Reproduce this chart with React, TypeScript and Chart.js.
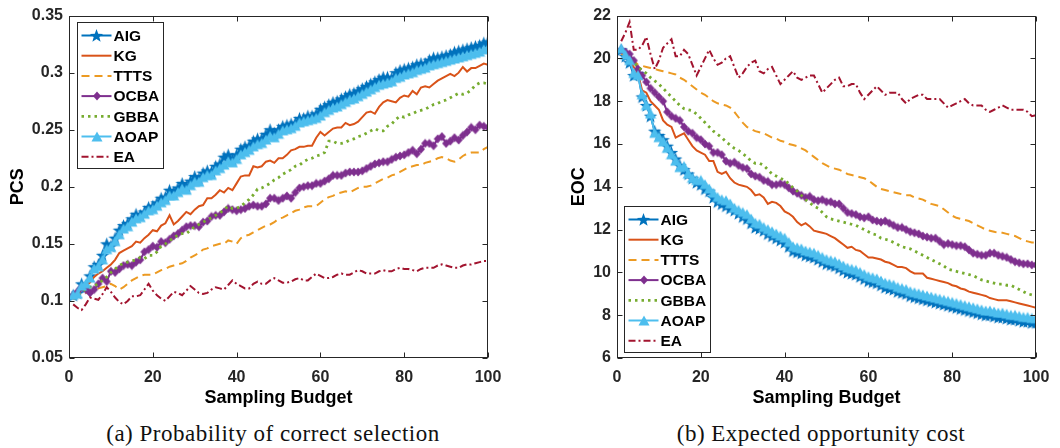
import React, { useEffect, useRef } from "react";
import { Chart, registerables } from "chart.js";
Chart.register(...registerables);

// ---------- data ----------
const budget = Array.from({ length: 100 }, (_, i) => i + 1);
const methods = ["AIG", "KG", "TTTS", "OCBA", "GBBA", "AOAP", "EA"];

const xTicks = [0, 20, 40, 60, 80, 100];
const xTickLabels = ["0", "20", "40", "60", "80", "100"];
const pcsTicks = [0.05, 0.1, 0.15, 0.2, 0.25, 0.3, 0.35];
const pcsTickLabels = ["0.05", "0.1", "0.15", "0.2", "0.25", "0.3", "0.35"];
const eocTicks = [6, 8, 10, 12, 14, 16, 18, 20, 22];
const eocTickLabels = ["6", "8", "10", "12", "14", "16", "18", "20", "22"];

const pcsAIG = [0.105,0.107,0.115,0.112,0.122,0.13,0.132,0.14,0.15,0.148,0.155,0.162,0.166,0.168,0.172,0.176,0.175,0.178,0.182,0.183,0.186,0.19,0.191,0.197,0.195,0.199,0.203,0.2,0.205,0.209,0.207,0.212,0.214,0.213,0.218,0.22,0.226,0.228,0.224,0.228,0.233,0.235,0.236,0.24,0.242,0.242,0.246,0.25,0.247,0.25,0.253,0.254,0.255,0.256,0.26,0.26,0.262,0.262,0.264,0.268,0.27,0.272,0.274,0.275,0.277,0.279,0.281,0.282,0.284,0.286,0.288,0.29,0.292,0.294,0.296,0.296,0.295,0.3,0.302,0.303,0.304,0.305,0.307,0.308,0.308,0.311,0.313,0.313,0.314,0.315,0.316,0.318,0.319,0.32,0.321,0.322,0.323,0.324,0.326,0.327];
const pcsKG = [0.105,0.107,0.11,0.113,0.116,0.121,0.124,0.126,0.129,0.132,0.136,0.142,0.144,0.146,0.148,0.152,0.151,0.155,0.158,0.162,0.161,0.166,0.168,0.175,0.167,0.17,0.174,0.178,0.176,0.18,0.183,0.184,0.19,0.19,0.193,0.197,0.195,0.199,0.197,0.203,0.209,0.21,0.21,0.218,0.217,0.218,0.222,0.223,0.221,0.225,0.225,0.228,0.232,0.233,0.235,0.235,0.236,0.236,0.243,0.248,0.245,0.248,0.251,0.252,0.252,0.256,0.254,0.255,0.257,0.261,0.265,0.266,0.264,0.27,0.274,0.276,0.275,0.274,0.278,0.28,0.279,0.284,0.281,0.287,0.288,0.287,0.29,0.293,0.295,0.297,0.299,0.297,0.3,0.305,0.301,0.304,0.304,0.306,0.308,0.307];
const pcsTTTS = [0.105,0.106,0.108,0.107,0.108,0.109,0.111,0.112,0.113,0.115,0.113,0.11,0.112,0.115,0.118,0.12,0.122,0.123,0.123,0.123,0.125,0.127,0.128,0.13,0.131,0.132,0.133,0.135,0.138,0.14,0.142,0.145,0.146,0.148,0.149,0.15,0.15,0.153,0.152,0.15,0.155,0.157,0.158,0.16,0.162,0.164,0.166,0.167,0.169,0.172,0.173,0.175,0.177,0.179,0.18,0.182,0.183,0.183,0.183,0.186,0.189,0.191,0.192,0.194,0.195,0.196,0.195,0.197,0.199,0.2,0.2,0.201,0.203,0.205,0.207,0.208,0.21,0.211,0.213,0.215,0.217,0.218,0.219,0.219,0.221,0.222,0.223,0.225,0.226,0.225,0.223,0.222,0.224,0.227,0.229,0.23,0.23,0.23,0.233,0.235];
const pcsOCBA = [0.105,0.108,0.112,0.11,0.107,0.11,0.115,0.12,0.117,0.126,0.125,0.128,0.131,0.132,0.131,0.134,0.136,0.143,0.145,0.148,0.147,0.152,0.151,0.154,0.157,0.159,0.162,0.165,0.166,0.166,0.165,0.169,0.17,0.174,0.175,0.175,0.178,0.181,0.18,0.179,0.18,0.181,0.183,0.184,0.183,0.183,0.185,0.19,0.19,0.188,0.19,0.192,0.19,0.195,0.199,0.2,0.201,0.201,0.203,0.203,0.205,0.207,0.21,0.21,0.21,0.212,0.213,0.213,0.213,0.214,0.216,0.218,0.22,0.221,0.222,0.222,0.224,0.226,0.227,0.228,0.23,0.232,0.229,0.233,0.238,0.238,0.236,0.242,0.244,0.238,0.24,0.243,0.241,0.245,0.248,0.252,0.25,0.254,0.253,0.252];
const pcsGBBA = [0.102,0.104,0.108,0.11,0.112,0.113,0.115,0.118,0.121,0.125,0.128,0.131,0.133,0.134,0.135,0.136,0.138,0.137,0.14,0.14,0.143,0.148,0.15,0.153,0.155,0.158,0.159,0.159,0.162,0.165,0.167,0.169,0.171,0.173,0.175,0.177,0.18,0.183,0.181,0.181,0.183,0.186,0.189,0.193,0.198,0.199,0.201,0.203,0.206,0.208,0.211,0.213,0.215,0.218,0.219,0.222,0.224,0.225,0.227,0.228,0.23,0.24,0.24,0.238,0.238,0.239,0.241,0.242,0.244,0.245,0.247,0.249,0.251,0.249,0.249,0.253,0.255,0.259,0.262,0.261,0.263,0.264,0.266,0.267,0.268,0.27,0.272,0.273,0.275,0.276,0.278,0.28,0.282,0.281,0.282,0.285,0.289,0.291,0.291,0.29];
const pcsAOAP = [0.105,0.106,0.113,0.115,0.12,0.128,0.13,0.136,0.145,0.147,0.152,0.158,0.163,0.165,0.169,0.172,0.173,0.176,0.179,0.18,0.183,0.186,0.188,0.192,0.192,0.195,0.198,0.197,0.201,0.204,0.204,0.208,0.21,0.21,0.214,0.216,0.219,0.222,0.221,0.224,0.228,0.23,0.232,0.235,0.237,0.238,0.241,0.244,0.243,0.246,0.249,0.25,0.251,0.253,0.256,0.257,0.258,0.259,0.26,0.262,0.265,0.267,0.269,0.27,0.272,0.274,0.276,0.277,0.279,0.281,0.283,0.285,0.287,0.289,0.29,0.291,0.292,0.295,0.296,0.298,0.299,0.3,0.302,0.303,0.304,0.306,0.307,0.308,0.309,0.31,0.311,0.312,0.313,0.314,0.315,0.316,0.317,0.318,0.32,0.321];
const pcsEA = [0.097,0.094,0.092,0.097,0.103,0.102,0.101,0.106,0.112,0.108,0.103,0.099,0.097,0.1,0.104,0.104,0.105,0.11,0.115,0.109,0.105,0.102,0.1,0.104,0.108,0.107,0.105,0.109,0.113,0.11,0.107,0.106,0.107,0.11,0.112,0.111,0.11,0.114,0.118,0.115,0.113,0.111,0.111,0.115,0.117,0.115,0.115,0.118,0.12,0.118,0.116,0.116,0.117,0.119,0.12,0.118,0.118,0.121,0.124,0.122,0.12,0.12,0.121,0.123,0.124,0.123,0.123,0.125,0.127,0.126,0.124,0.124,0.124,0.126,0.127,0.126,0.126,0.128,0.129,0.128,0.128,0.127,0.126,0.128,0.129,0.129,0.129,0.131,0.132,0.131,0.13,0.129,0.129,0.131,0.132,0.132,0.133,0.134,0.135,0.135];

const eocAIG = [20.4,20.1,19.8,19.2,19.3,18.2,17.8,17.3,16.6,16.4,16.2,15.9,15.6,15.3,15.0,14.8,14.6,14.4,14.2,14.1,13.9,13.8,13.5,13.3,13.2,13.1,13.0,12.9,12.75,12.6,12.5,12.3,12.1,12.05,11.95,11.8,11.7,11.6,11.5,11.4,11.2,11.0,10.95,10.9,10.8,10.75,10.7,10.6,10.5,10.4,10.35,10.3,10.2,10.1,10.0,9.95,9.9,9.8,9.7,9.6,9.55,9.5,9.4,9.3,9.25,9.2,9.1,9.05,9.0,8.9,8.85,8.8,8.75,8.7,8.65,8.6,8.55,8.5,8.45,8.4,8.35,8.3,8.25,8.2,8.15,8.1,8.05,8.0,8.0,7.95,7.9,7.9,7.85,7.8,7.8,7.75,7.7,7.7,7.65,7.65];
const eocKG = [20.4,20.1,19.9,19.6,19.3,18.5,18.4,18.0,17.8,17.6,17.1,16.9,16.8,16.3,16.4,16.5,16.2,15.9,15.7,15.6,15.5,15.2,15.2,14.7,14.6,14.7,14.4,14.2,14.1,14.05,14.0,13.85,13.6,13.65,13.5,13.2,13.3,13.25,13.1,12.85,12.75,12.6,12.35,12.2,12.3,12.15,11.95,11.9,11.85,11.8,11.7,11.6,11.45,11.3,11.15,11.2,11.05,11.0,10.85,10.7,10.7,10.65,10.6,10.5,10.45,10.35,10.25,10.25,10.2,10.05,9.95,9.95,9.95,9.75,9.7,9.65,9.6,9.55,9.5,9.4,9.35,9.25,9.2,9.1,9.05,9.0,8.95,8.9,8.8,8.75,8.7,8.7,8.7,8.65,8.6,8.55,8.5,8.45,8.4,8.35];
const eocTTTS = [20.2,20.15,20.1,19.9,19.7,19.65,19.6,19.55,19.5,19.45,19.4,19.35,19.3,19.25,19.1,19.0,18.85,18.7,18.55,18.4,18.3,18.15,18.0,17.9,17.85,17.8,17.7,17.5,17.25,17.0,16.8,16.7,16.6,16.55,16.5,16.4,16.3,16.25,16.15,16.1,16.0,15.95,15.9,15.8,15.7,15.55,15.4,15.25,15.1,15.0,14.9,14.85,14.8,14.7,14.6,14.55,14.5,14.45,14.4,14.3,14.15,14.0,13.9,13.85,13.8,13.75,13.7,13.65,13.6,13.6,13.5,13.45,13.4,13.3,13.2,13.15,13.1,12.95,12.8,12.65,12.55,12.5,12.45,12.4,12.3,12.2,12.1,12.0,11.95,11.9,11.85,11.85,11.8,11.75,11.7,11.6,11.5,11.45,11.4,11.4];
const eocOCBA = [20.4,20.3,20.2,19.9,19.5,19.2,18.9,18.6,18.4,18.2,18.0,17.5,17.3,17.2,17.1,16.8,16.6,16.5,16.3,16.2,16.0,15.9,15.6,15.6,15.5,15.2,15.1,15.15,15.0,14.9,14.85,14.6,14.5,14.45,14.3,14.25,14.1,14.1,14.15,14.1,13.95,13.8,13.7,13.6,13.5,13.55,13.4,13.35,13.4,13.3,13.3,13.2,13.2,13.0,12.8,12.75,12.7,12.6,12.55,12.6,12.45,12.4,12.35,12.4,12.3,12.2,12.1,12.1,12.0,11.9,11.85,11.8,11.7,11.65,11.6,11.6,11.45,11.3,11.35,11.3,11.25,11.25,11.2,11.05,10.9,10.85,10.8,10.8,10.9,10.9,10.8,10.75,10.7,10.6,10.5,10.45,10.4,10.4,10.35,10.35];
const eocGBBA = [20.4,20.2,19.95,19.8,19.6,19.45,19.3,19.1,18.95,18.8,18.6,18.4,18.2,18.0,17.8,17.65,17.6,17.55,17.4,17.2,17.0,16.8,16.6,16.45,16.3,16.1,15.95,15.8,15.7,15.55,15.4,15.2,15.1,15.1,15.0,14.8,14.6,14.5,14.4,14.3,14.15,13.95,13.8,13.6,13.4,13.25,13.1,13.0,12.8,12.6,12.5,12.45,12.4,12.35,12.3,12.25,12.2,12.1,12.0,11.9,11.8,11.75,11.6,11.55,11.5,11.4,11.3,11.2,11.15,11.1,11.0,10.9,10.8,10.7,10.6,10.5,10.4,10.3,10.15,10.1,10.05,10.0,9.95,9.9,9.85,9.75,9.65,9.6,9.55,9.5,9.45,9.45,9.4,9.4,9.3,9.2,9.1,9.0,8.95,8.9];
const eocAOAP = [20.45,20.15,19.9,19.3,19.2,18.3,17.8,17.4,16.5,16.3,16.1,15.8,15.5,15.2,14.9,14.95,14.6,14.4,14.3,14.3,14.1,13.9,13.7,13.5,13.4,13.35,13.2,13.0,12.9,12.8,12.7,12.5,12.3,12.25,12.1,12.0,11.9,11.8,11.7,11.6,11.4,11.2,11.15,11.1,11.0,10.95,10.9,10.8,10.7,10.6,10.55,10.5,10.4,10.3,10.2,10.15,10.1,10.0,9.9,9.8,9.75,9.7,9.6,9.5,9.45,9.4,9.3,9.25,9.2,9.1,9.05,9.0,8.95,8.9,8.85,8.8,8.75,8.7,8.65,8.6,8.55,8.5,8.45,8.4,8.35,8.3,8.25,8.2,8.2,8.15,8.1,8.1,8.05,8.0,8.0,7.95,7.9,7.9,7.85,7.85];
const eocEA = [20.8,21.2,21.7,20.4,20.4,20.6,21.0,20.2,19.5,19.9,20.5,20.7,20.9,20.1,20.1,20.4,20.2,19.7,19.2,19.6,20.0,20.4,20.0,19.7,19.8,20.0,20.1,19.6,19.1,19.3,19.6,19.8,19.9,19.4,19.3,19.5,19.6,19.2,18.8,19.0,19.2,19.4,19.1,19.0,19.1,19.2,19.2,18.8,18.4,18.6,18.8,19.0,19.1,18.7,18.7,18.8,18.8,18.4,18.1,18.3,18.5,18.7,18.5,18.3,18.4,18.4,18.4,18.1,17.9,18.1,18.2,18.3,18.3,18.1,18.1,18.1,18.1,17.9,17.7,17.8,17.9,18.0,18.1,17.9,17.8,17.8,17.8,17.6,17.5,17.6,17.7,17.8,17.7,17.6,17.6,17.6,17.6,17.5,17.3,17.35];

const pcsSeries = [pcsAIG, pcsKG, pcsTTTS, pcsOCBA, pcsGBBA, pcsAOAP, pcsEA];
const eocSeries = [eocAIG, eocKG, eocTTTS, eocOCBA, eocGBBA, eocAOAP, eocEA];

// ---------- styles ----------
const colors = ["#0072BD", "#D95319", "#EC9A22", "#7E2F8E", "#77AC30", "#4DBEEE", "#A2142F"];
const dashes: number[][] = [[], [], [8, 5], [], [2.5, 4], [], [7, 3, 2, 3]];
const widths = [2, 2, 2, 2, 2.8, 2, 2];
const markers = ["star", "none", "none", "diamond", "none", "triangle", "none"];
const AXIS_COLOR = "#262626";
const SANS = "'Liberation Sans', Arial, Helvetica, sans-serif";

function makeMarker(kind: string, color: string): HTMLCanvasElement | null {
  if (kind === "none") return null;
  const c = document.createElement("canvas");
  const s = kind === "star" ? 15 : kind === "triangle" ? 12 : 10;
  c.width = s;
  c.height = s;
  const ctx = c.getContext("2d")!;
  const m = s / 2;
  ctx.beginPath();
  if (kind === "star") {
    const r = 7;
    for (let k = 0; k < 10; k++) {
      const rad = k % 2 === 0 ? r : r * 0.42;
      const a = -Math.PI / 2 + (k * Math.PI) / 5;
      ctx.lineTo(m + rad * Math.cos(a), m + 0.6 + rad * Math.sin(a));
    }
  } else if (kind === "triangle") {
    ctx.moveTo(m, 0.5);
    ctx.lineTo(s - 0.5, s - 1.5);
    ctx.lineTo(0.5, s - 1.5);
  } else {
    ctx.moveTo(m, 0.5);
    ctx.lineTo(s - 1, m);
    ctx.lineTo(m, s - 0.5);
    ctx.lineTo(1, m);
  }
  ctx.closePath();
  ctx.fillStyle = color;
  ctx.fill();
  return c;
}

const boxPlugin = {
  id: "matlabBox",
  afterDatasetsDraw(chart: any) {
    const { ctx, chartArea, scales } = chart;
    const L = Math.round(chartArea.left) + 0.5;
    const R = Math.round(chartArea.right) - 0.5;
    const T = Math.round(chartArea.top) + 0.5;
    const B = Math.round(chartArea.bottom) - 0.5;
    ctx.save();
    ctx.strokeStyle = AXIS_COLOR;
    ctx.lineWidth = 1;
    ctx.strokeRect(L, T, R - L, B - T);
    const tl = 5;
    ctx.beginPath();
    scales.x.ticks.forEach((t: any) => {
      const px = Math.round(scales.x.getPixelForValue(t.value)) + 0.5;
      ctx.moveTo(px, B);
      ctx.lineTo(px, B - tl);
      ctx.moveTo(px, T);
      ctx.lineTo(px, T + tl);
    });
    scales.y.ticks.forEach((t: any) => {
      const py = Math.round(scales.y.getPixelForValue(t.value)) + 0.5;
      ctx.moveTo(L, py);
      ctx.lineTo(L + tl, py);
      ctx.moveTo(R, py);
      ctx.lineTo(R - tl, py);
    });
    ctx.stroke();
    ctx.restore();
  },
};

function makeLegendPlugin(anchor: "top" | "bottom", dx: number, dy: number) {
  return {
    id: "matlabLegend",
    afterDraw(chart: any) {
      const { ctx, chartArea } = chart;
      const w = 86;
      const h = 146;
      const left = Math.round(chartArea.left + dx) + 0.5;
      const top =
        anchor === "top"
          ? Math.round(chartArea.top + dy) + 0.5
          : Math.round(chartArea.bottom - dy - h) + 0.5;
      ctx.save();
      ctx.fillStyle = "#ffffff";
      ctx.fillRect(left, top, w, h);
      ctx.strokeStyle = AXIS_COLOR;
      ctx.lineWidth = 1;
      ctx.strokeRect(left, top, w, h);
      chart.data.datasets.forEach((ds: any, i: number) => {
        const y = top + 13 + i * 20.2;
        const x0 = left + 4;
        const x1 = left + 34;
        ctx.save();
        ctx.strokeStyle = ds.borderColor;
        ctx.lineWidth = ds.borderWidth;
        ctx.setLineDash(ds.borderDash || []);
        ctx.beginPath();
        ctx.moveTo(x0, y);
        ctx.lineTo(x1, y);
        ctx.stroke();
        ctx.restore();
        const mk = ds.pointStyle;
        if (mk && typeof mk !== "string") {
          ctx.drawImage(mk, Math.round((x0 + x1) / 2 - mk.width / 2), Math.round(y - mk.height / 2));
        }
        ctx.fillStyle = "#000000";
        ctx.font = `bold 15.5px ${SANS}`;
        ctx.textBaseline = "middle";
        ctx.textAlign = "left";
        ctx.fillText(ds.label, left + 36, y + 1);
      });
      ctx.restore();
    },
  };
}

type PanelProps = {
  series: number[][];
  yTicks: number[];
  yTickLabels: string[];
  yMin: number;
  yMax: number;
  yTitle: string;
  yAxisWidth: number;
  yTitlePad: number;
  padTop: number;
  padRight: number;
  legendAnchor: "top" | "bottom";
  legendDx: number;
  legendDy: number;
};

function ChartPanel(p: PanelProps) {
  const ref = useRef<HTMLCanvasElement | null>(null);
  useEffect(() => {
    if (!ref.current) return;
    const datasets = methods.map((m, i) => {
      const mk = makeMarker(markers[i], colors[i]);
      return {
        label: m,
        data: budget.map((x, j) => ({ x, y: p.series[i][j] })),
        borderColor: colors[i],
        backgroundColor: colors[i],
        borderWidth: widths[i],
        borderDash: dashes[i],
        pointStyle: mk || "circle",
        pointRadius: mk ? 4 : 0,
        pointHoverRadius: mk ? 4 : 0,
        tension: 0,
        order: methods.length - 1 - i,
      };
    });
    const tickFont = { family: SANS, size: 16, weight: "bold" as const };
    const titleFont = { family: SANS, size: 18, weight: "bold" as const };
    const chart = new Chart(ref.current, {
      type: "line",
      data: { datasets },
      options: {
        animation: false,
        responsive: false,
        maintainAspectRatio: false,
        events: [],
        layout: { padding: { top: p.padTop, right: p.padRight, left: 0, bottom: 0 } },
        plugins: { legend: { display: false }, tooltip: { enabled: false } },
        scales: {
          x: {
            type: "linear",
            min: 0,
            max: 100,
            afterBuildTicks: (s: any) => {
              s.ticks = xTicks.map((v) => ({ value: v }));
            },
            afterFit: (s: any) => {
              s.height = 52;
            },
            ticks: {
              font: tickFont,
              color: AXIS_COLOR,
              padding: 10,
              maxRotation: 0,
              autoSkip: false,
              callback: (v: any) => xTickLabels[xTicks.indexOf(Number(v))] ?? String(v),
            },
            grid: { display: false, drawTicks: false },
            border: { display: false },
            title: {
              display: true,
              text: "Sampling Budget",
              font: titleFont,
              color: "#000000",
              padding: { top: 0, bottom: 1 },
            },
          },
          y: {
            type: "linear",
            min: p.yMin,
            max: p.yMax,
            afterBuildTicks: (s: any) => {
              s.ticks = p.yTicks.map((v) => ({ value: v }));
            },
            afterFit: (s: any) => {
              s.width = p.yAxisWidth;
            },
            ticks: {
              font: tickFont,
              color: AXIS_COLOR,
              padding: 6,
              autoSkip: false,
              callback: (v: any) => {
                const idx = p.yTicks.findIndex((t) => Math.abs(t - Number(v)) < 1e-9);
                return idx >= 0 ? p.yTickLabels[idx] : String(v);
              },
            },
            grid: { display: false, drawTicks: false },
            border: { display: false },
            title: {
              display: true,
              text: p.yTitle,
              font: titleFont,
              color: "#000000",
              padding: { top: p.yTitlePad, bottom: 0 },
            },
          },
        },
      },
      plugins: [boxPlugin, makeLegendPlugin(p.legendAnchor, p.legendDx, p.legendDy)],
    } as any);
    return () => chart.destroy();
  }, []);
  return <canvas ref={ref} width={530} height={410} style={{ width: 530, height: 410, display: "block" }} />;
}

const captionStyle: React.CSSProperties = {
  position: "absolute",
  top: 420,
  height: 28,
  lineHeight: "28px",
  fontFamily: "'Liberation Serif', 'DejaVu Serif', serif",
  fontSize: 23,
  color: "#111111",
  textAlign: "center",
  whiteSpace: "nowrap",
  letterSpacing: "0.5px",
};

export default function App() {
  return (
    <div style={{ position: "absolute", left: 0, top: 0, width: 1060, height: 448, background: "#ffffff", overflow: "hidden" }}>
      <div style={{ position: "absolute", left: 0, top: 0 }}>
        <ChartPanel
          series={pcsSeries}
          yTicks={pcsTicks}
          yTickLabels={pcsTickLabels}
          yMin={0.05}
          yMax={0.35}
          yTitle="PCS"
          yAxisWidth={69}
          yTitlePad={7}
          padTop={12}
          padRight={42}
          legendAnchor="top"
          legendDx={8}
          legendDy={6}
        />
      </div>
      <div style={{ position: "absolute", left: 530, top: 0 }}>
        <ChartPanel
          series={eocSeries}
          yTicks={eocTicks}
          yTickLabels={eocTickLabels}
          yMin={6}
          yMax={22}
          yTitle="EOC"
          yAxisWidth={87}
          yTitlePad={38}
          padTop={11}
          padRight={24}
          legendAnchor="bottom"
          legendDx={7}
          legendDy={6}
        />
      </div>
      <div style={{ ...captionStyle, left: 73, width: 400 }}>(a) Probability of correct selection</div>
      <div style={{ ...captionStyle, left: 621, width: 400 }}>(b) Expected opportunity cost</div>
    </div>
  );
}
